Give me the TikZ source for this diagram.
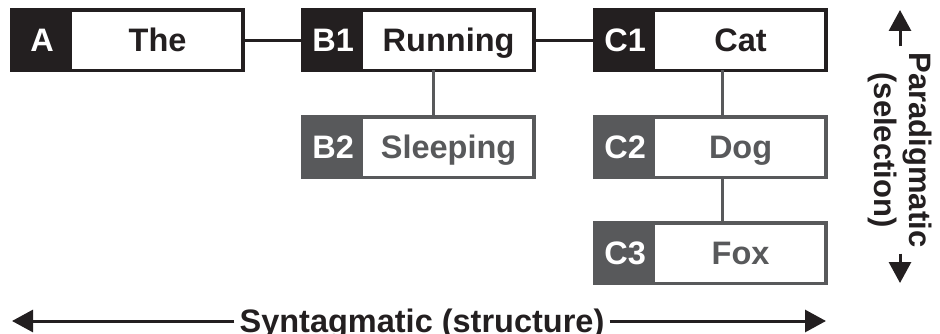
\documentclass[tikz,border=0pt]{standalone}
\usepackage{fontspec}
\setmainfont{Liberation Sans}
\usetikzlibrary{arrows.meta,positioning}
\definecolor{ink}{HTML}{231F20}
\definecolor{mid}{HTML}{58595B}

% one labelled word box: name, x, y, colour, tag, word
\newcommand{\wordbox}[6]{%
  \node[tagcell, fill=#4] (#1t) at (#2,#3) {#5};
  \node[wordcell, text=#4, right=0pt of #1t] (#1w) {#6};
  \draw[frame, draw=#4] (#1t.north west) rectangle (#1w.south east);
}

\begin{document}
\begin{tikzpicture}[x=1pt,y=-1pt,
  big/.style={font=\bfseries\fontsize{32.5}{36}\selectfont},
  side/.style={font=\bfseries\fontsize{31}{35.5}\selectfont},
  tagcell/.style={big, anchor=north west, minimum width=60pt, minimum height=60pt,
    inner sep=0pt, text=white, text height=23pt, text depth=0pt},
  wordcell/.style={big, minimum width=170pt, minimum height=60pt,
    inner sep=0pt, fill=white, text height=23pt, text depth=0pt},
  frame/.style={line width=3.5pt},
  link/.style={line width=3pt},
  axis/.style={line width=3pt, draw=ink, -{Triangle[length=21pt,width=22pt]}}]

\useasboundingbox (0,0) rectangle (940,334);

% first row: chosen words
\wordbox{A}{12}{10}{ink}{A}{The}
\wordbox{B1}{303}{10}{ink}{B1}{Running}
\wordbox{C1}{595}{10}{ink}{C1}{Cat}
% alternatives
\wordbox{B2}{303}{117}{mid}{B2}{Sleeping}
\wordbox{C2}{595}{117}{mid}{C2}{Dog}
\wordbox{C3}{595}{223}{mid}{C3}{Fox}

% connectors
\draw[link, ink] (Aw.east) -- (B1t.west);
\draw[link, ink] (B1w.east) -- (C1t.west);
\draw[link, mid] ([xshift=-15pt]B1w.south) -- ([xshift=-15pt]B2w.north);
\draw[link, mid] ([xshift=-18pt]C1w.south) -- ([xshift=-18pt]C2w.north);
\draw[link, mid] ([xshift=-18pt]C2w.south) -- ([xshift=-18pt]C3w.north);

% syntagmatic axis
\node[big, inner sep=5pt, text height=24pt, text depth=0pt, text=ink] (syn) at (422,320) {Syntagmatic (structure)};
\coordinate (synL) at (12,321);
\coordinate (synR) at (826,321);
\draw[axis] (syn.west |- synL) -- (synL);
\draw[axis] (syn.east |- synR) -- (synR);

% paradigmatic axis
\node[side, rotate=-90, align=center, inner sep=6pt, text=ink] (par) at (900,150) {Paradigmatic\\(selection)};
\coordinate (parT) at (900,10);
\coordinate (parB) at (900,283);
\draw[axis] (par.west) -- (parT);
\draw[axis] (par.east) -- (parB);
\end{tikzpicture}
\end{document}
